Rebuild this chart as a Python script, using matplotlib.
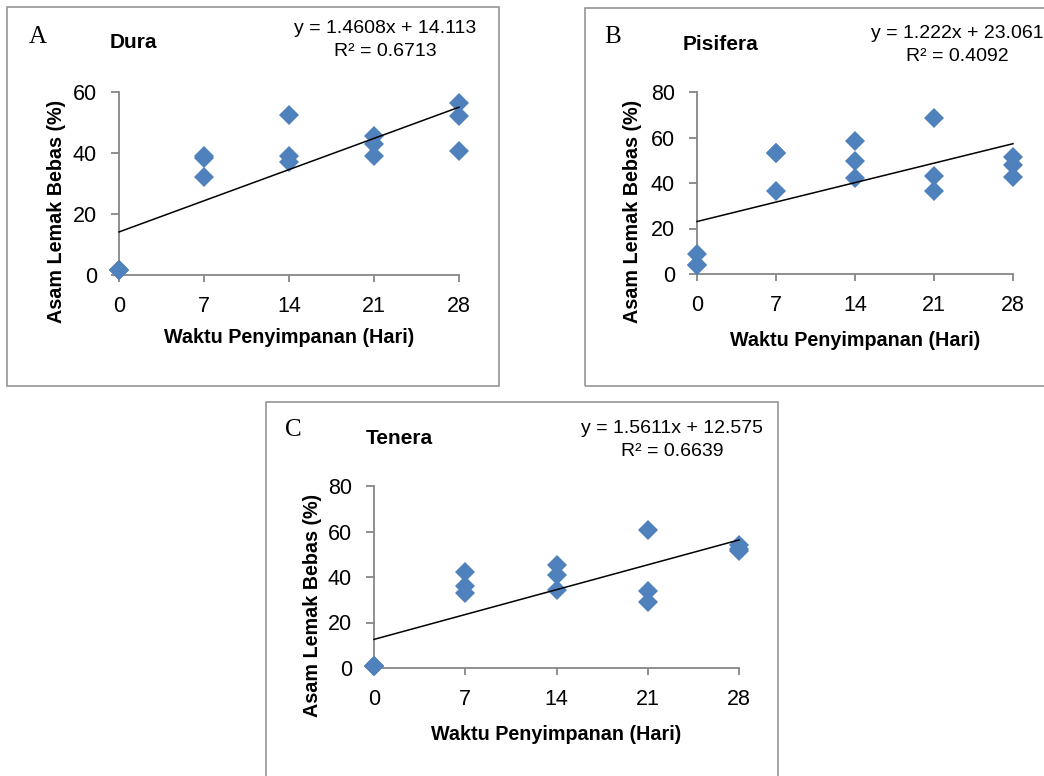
import matplotlib
matplotlib.use("Agg")
import matplotlib.pyplot as plt
import numpy as np
from matplotlib.patches import Rectangle

# storage time (days)
days = [0, 7, 14, 21, 28]

# free fatty acid (%), three replicates per day
dura = [[1.5, 1.5, 1.5], [39, 38.5, 32], [52.5, 39, 37], [45.5, 43, 39], [56.5, 52, 40.5]]
pisifera = [[9, 4, 4], [53, 53, 36.5], [58.5, 49.5, 42], [68.5, 43, 36.5], [51.5, 48, 42.5]]
tenera = [[0.7, 0.7, 0.7], [42.3, 36, 33], [45.3, 41, 34.5], [60.5, 34, 29], [54.2, 51.5, 52.5]]

# trendline coefficients (slope, intercept) and R2 printed on the chart
fits = {"Dura": (1.4608, 14.113, 0.6713),
        "Pisifera": (1.222, 23.061, 0.4092),
        "Tenera": (1.5611, 12.575, 0.6639)}

W, H = 1044, 776
fig = plt.figure(figsize=(W / 100, H / 100), dpi=100)

NARROW = ["Liberation Sans Narrow", "Liberation Sans", "DejaVu Sans"]
BLUE = "#4F81BD"
GREY = "#868686"


def px_axes(x0, x1, ytop, ybot):
    return fig.add_axes([x0 / W, (H - ybot) / H, (x1 - x0) / W, (ybot - ytop) / H])


def border(x0, y0, x1, y1):
    fig.patches.append(Rectangle((x0 / W, (H - y1) / H), (x1 - x0) / W, (y1 - y0) / H,
                                 transform=fig.transFigure, fill=False,
                                 edgecolor="#8c8c8c", lw=1.1, zorder=0))


def panel(box, name, data, ymax, letter, letter_xy, name_xy, eq_xy, ylab_xy, xlab_y):
    x0, x1, ytop, ybot = box
    ax = px_axes(*box)
    xs = np.repeat(days, 3)
    ys = np.concatenate(data)
    ax.plot(xs, ys, linestyle="none", marker="D", markersize=10.5, color=BLUE,
            markeredgewidth=0, clip_on=False, zorder=3)
    m, b, r2 = fits[name]
    xl = np.array([0, 28])
    ax.plot(xl, m * xl + b, color="black", lw=1.1, zorder=4, clip_on=False)
    ax.set_xlim(0, 28)
    ax.set_ylim(0, ymax)
    ax.set_xticks(days)
    ax.set_yticks(np.arange(0, ymax + 1, 20))
    for s in ["top", "right"]:
        ax.spines[s].set_visible(False)
    for s in ["left", "bottom"]:
        ax.spines[s].set_color(GREY)
        ax.spines[s].set_linewidth(1.3)
    ax.tick_params(axis="both", colors=GREY, width=1.3, labelcolor="black")
    ax.tick_params(axis="y", length=6, pad=10)
    ax.tick_params(axis="x", length=5, pad=10)
    for t in ax.get_xticklabels() + ax.get_yticklabels():
        t.set_family(NARROW)
        t.set_fontsize(15.5)
    ax.set_xlabel("Waktu Penyimpanan (Hari)", family=NARROW, fontsize=14.2,
                  fontweight="bold")
    ax.set_ylabel("Asam Lemak Bebas (%)", family=NARROW, fontsize=14.2,
                  fontweight="bold")
    ax.yaxis.set_label_coords((ylab_xy[0] - x0) / (x1 - x0),
                              (ybot - ylab_xy[1]) / (ybot - ytop))
    ax.xaxis.set_label_coords(0.5, (ybot - xlab_y) / (ybot - ytop))
    ax.xaxis.label.set_va("center")
    ax.yaxis.label.set_va("center")
    fig.text(letter_xy[0] / W, 1 - letter_xy[1] / H, letter, family="Liberation Serif",
             fontsize=18, ha="center", va="center")
    fig.text(name_xy[0] / W, 1 - name_xy[1] / H, name, family=NARROW, fontsize=15,
             fontweight="bold", ha="left", va="center")
    fig.text(eq_xy[0] / W, 1 - eq_xy[1] / H,
             f"y = {m}x + {b}\nR² = {r2}", family=NARROW, fontsize=14,
             ha="center", va="center", linespacing=1.4)
    return ax


border(7, 7, 499, 386)
border(585, 8, 1060, 386)
border(266, 402, 778, 790)

panel((119, 459, 92, 275), "Dura", dura, 60, "A", (38, 37), (110, 42), (385, 40),
      (57, 211), 338)
panel((697, 1013, 92, 274), "Pisifera", pisifera, 80, "B", (613, 37), (683, 45), (957, 45),
      (633, 211), 340)
panel((374, 739, 486, 668), "Tenera", tenera, 80, "C", (293, 430), (366, 438), (672, 440),
      (312, 605), 735)

fig.savefig("out.png", dpi=100)
